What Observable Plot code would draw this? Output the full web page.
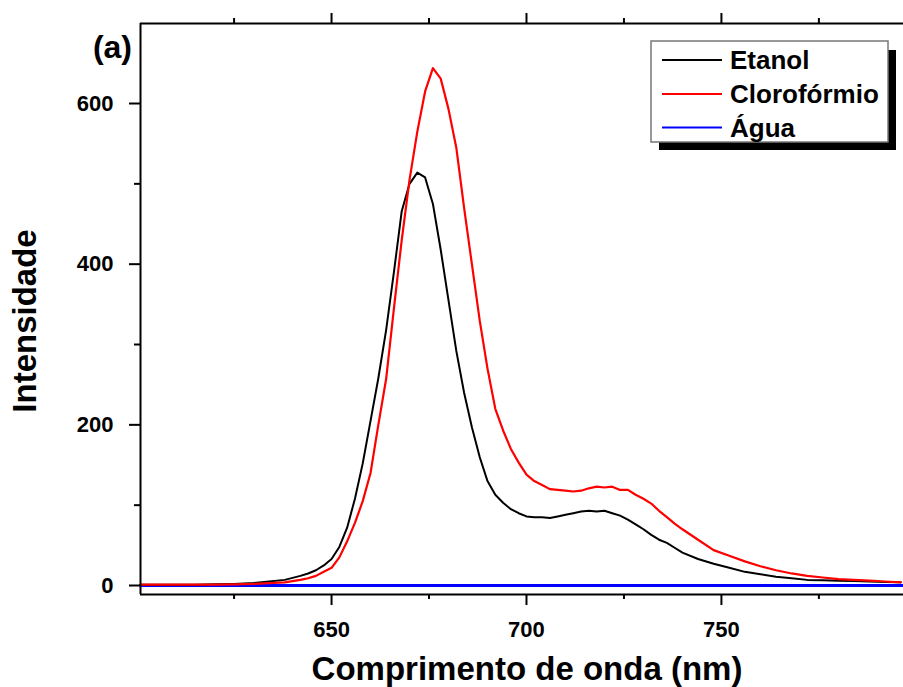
<!DOCTYPE html>
<html>
<head>
<meta charset="utf-8">
<script src="https://cdn.jsdelivr.net/npm/d3@7"></script>
<script src="https://cdn.jsdelivr.net/npm/@observablehq/plot@0.6"></script>
<style>
  html, body { margin: 0; padding: 0; background: #fff; }
  #chart { width: 903px; height: 687px; }
  svg { font-family: "Liberation Sans", Arial, sans-serif; font-weight: bold; }
</style>
</head>
<body>
<div id="chart"></div>
<script>
// Wavelengths (nm) shared by Etanol and Clorofórmio
const wavelengths = [601,605,610,615,620,625,630,634,638,642,644,646,648,650,652,654,656,658,660,662,664,666,668,670,672,674,676,678,680,682,684,686,688,690,692,694,696,698,700,702,704,706,708,710,712,714,716,718,720,722,724,726,728,730,732,734,736,738,740,744,748,752,756,760,764,768,772,776,780,784,788,792,796];
const etanol = [1,1,1,1,1.5,2,3,5,7,12,15,19,25,33,48,72,108,152,205,258,318,390,466,500,514,508,475,418,355,292,240,197,160,130,113,103,95,90,86,85,85,84,86,88,90,92,93,92,93,90,87,82,76,70,63,57,53,47,41,33,27,22,17,14,11,9,7,6.5,6,5.5,5,4.5,4];
const cloroformio = [1,1,1,1,1,1.5,2,3,4,7,9,12,17,22,35,55,78,105,140,200,257,345,430,505,565,615,644,631,593,545,470,400,330,270,220,193,170,153,138,130,125,120,119,118,117,118,121,123,122,123,119,119,113,108,102,93,85,77,70,57,44,37,30,24,19,15,12,10,8,7,6,5,4];
// Água (flat at zero)
const aguaWavelengths = [601,650,700,750,796.7];
const agua = [0,0,0,0,0];

const seriesNames = ["Etanol","Clorofórmio","Água"];
const seriesColors = ["#000000","#ff0000","#0000ff"];

const xMajor = [650,700,750];
const xMinor = [625,675,725,775];
const yMajor = [0,200,400,600];
const yMinor = [100,300,500];
const xDomain = [601, 796.7];
const yDomain = [-11.2, 699.6];

const rows = [];
wavelengths.forEach((w,i) => rows.push({w, v: etanol[i], s: seriesNames[0]}));
wavelengths.forEach((w,i) => rows.push({w, v: cloroformio[i], s: seriesNames[1]}));
aguaWavelengths.forEach((w,i) => rows.push({w, v: agua[i], s: seriesNames[2]}));

const noLabel = () => "";

const plot = Plot.plot({
  width: 903,
  height: 687,
  marginLeft: 140,
  marginRight: 0,
  marginTop: 23,
  marginBottom: 93,
  style: {fontFamily: '"Liberation Sans", Arial, sans-serif', fontWeight: "bold", color: "#000", background: "#fff"},
  x: {domain: xDomain},
  y: {domain: yDomain},
  marks: [
    Plot.line(rows.filter(d => d.s === "Água"), {x: "w", y: "v", stroke: seriesColors[2], strokeWidth: 3}),
    Plot.line(rows.filter(d => d.s === "Etanol"), {x: "w", y: "v", stroke: seriesColors[0], strokeWidth: 2}),
    Plot.line(rows.filter(d => d.s === "Clorofórmio"), {x: "w", y: "v", stroke: seriesColors[1], strokeWidth: 2.2}),
    Plot.ruleX([xDomain[0]], {stroke: "#000", strokeWidth: 2}),
    Plot.ruleY([yDomain[0]], {stroke: "#000", strokeWidth: 2}),
    Plot.ruleY([yDomain[1]], {stroke: "#000", strokeWidth: 2}),
    Plot.axisX(xMajor, {anchor: "bottom", tickSize: 11, tickPadding: 16, fontSize: 22, strokeWidth: 2, label: null}),
    Plot.axisX(xMinor, {anchor: "bottom", tickSize: 5, tickFormat: noLabel, strokeWidth: 2, label: null}),
    Plot.axisX(xMajor, {anchor: "top", tickSize: 11, tickFormat: noLabel, strokeWidth: 2, label: null}),
    Plot.axisX(xMinor, {anchor: "top", tickSize: 6, tickFormat: noLabel, strokeWidth: 2, label: null}),
    Plot.axisY(yMajor, {anchor: "left", tickSize: 11, tickPadding: 16, fontSize: 22, strokeWidth: 2, label: null}),
    Plot.axisY(yMinor, {anchor: "left", tickSize: 6, tickFormat: noLabel, strokeWidth: 2, label: null})
  ]
});

const svg = d3.select(plot);
const ff = '"Liberation Sans", Arial, sans-serif';

// axis titles
svg.append("text").attr("x", 527).attr("y", 680).attr("text-anchor", "middle")
  .attr("font-size", 33).attr("font-weight", "bold").attr("font-family", ff).attr("fill", "#000")
  .text("Comprimento de onda (nm)");
svg.append("text").attr("transform", "translate(36,321) rotate(-90)").attr("text-anchor", "middle")
  .attr("font-size", 33).attr("font-weight", "bold").attr("font-family", ff).attr("fill", "#000")
  .text("Intensidade");
// panel label
svg.append("text").attr("x", 132).attr("y", 58).attr("text-anchor", "end")
  .attr("font-size", 32).attr("font-weight", "bold").attr("font-family", ff).attr("fill", "#000")
  .text("(a)");

// legend
const lg = svg.append("g");
lg.append("rect").attr("x", 659).attr("y", 50).attr("width", 237).attr("height", 100).attr("fill", "#000");
lg.append("rect").attr("x", 651).attr("y", 41).attr("width", 237).attr("height", 101)
  .attr("fill", "#fff").attr("stroke", "#777").attr("stroke-width", 1.5);
const ly = [60, 94, 127.5];
seriesNames.forEach((name, i) => {
  lg.append("line").attr("x1", 662).attr("x2", 722).attr("y1", ly[i]).attr("y2", ly[i])
    .attr("stroke", seriesColors[i]).attr("stroke-width", 2);
  lg.append("text").attr("x", 730).attr("y", ly[i] + 9).attr("font-size", 26)
    .attr("text-anchor", "start")
    .attr("font-weight", "bold").attr("font-family", ff).attr("fill", "#000").text(name);
});

document.getElementById("chart").appendChild(plot);
</script>
</body>
</html>
